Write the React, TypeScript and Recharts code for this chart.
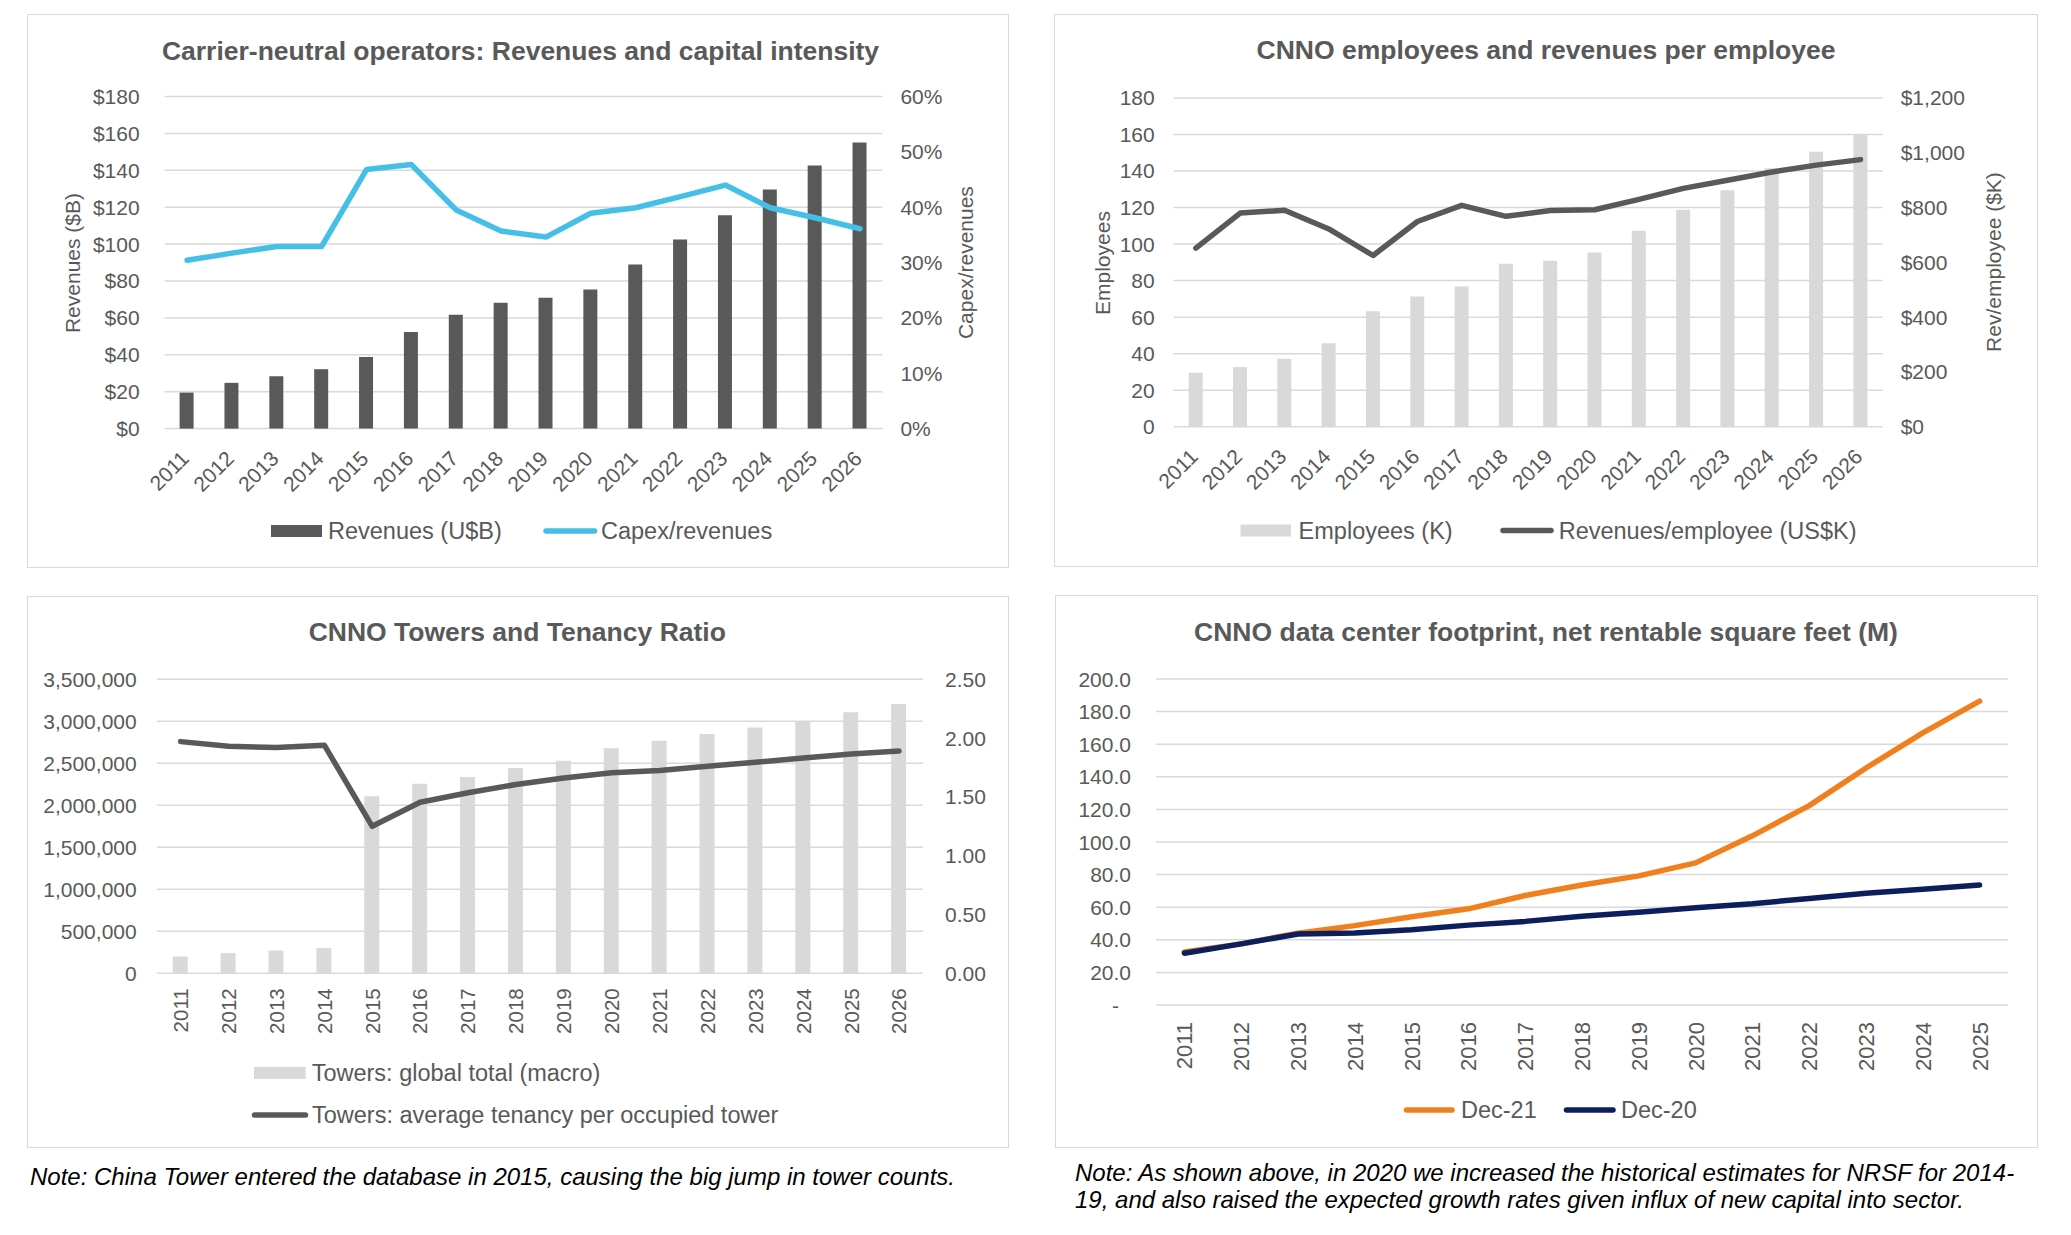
import React from 'react'
import { ComposedChart, Bar, Line, XAxis, YAxis, CartesianGrid } from 'recharts'

const years = ['2011', '2012', '2013', '2014', '2015', '2016', '2017', '2018', '2019', '2020', '2021', '2022', '2023', '2024', '2025', '2026']
const dcYears = ['2011', '2012', '2013', '2014', '2015', '2016', '2017', '2018', '2019', '2020', '2021', '2022', '2023', '2024', '2025']

// top left: revenues (U$B) and capex/revenues (%)
const revenuesB = [19.5, 24.8, 28.4, 32.2, 38.8, 52.4, 61.7, 68.2, 70.9, 75.4, 89.0, 102.5, 115.6, 129.6, 142.6, 155.1]
const capexPct = [30.4, 31.7, 32.9, 32.9, 46.8, 47.7, 39.5, 35.7, 34.6, 38.9, 39.9, 41.9, 44.0, 39.9, 38.1, 36.1]

// top right: employees (K) and revenues per employee (US$K)
const employeesK = [29.6, 32.6, 37.2, 45.7, 63.2, 71.3, 76.8, 89.3, 90.9, 95.4, 107.3, 118.8, 129.5, 141.5, 150.5, 160.0]
const revPerEmployeeK = [652, 780, 790, 722, 625, 749, 808, 768, 789, 792, 830, 870, 900, 930, 955, 975]

// bottom left: towers and tenancy
const towersTotal = [200000, 240000, 270000, 300000, 2107000, 2256000, 2336000, 2445000, 2530000, 2679000, 2768000, 2848000, 2925000, 3005000, 3108000, 3205000]
const tenancyRatio = [1.97, 1.93, 1.92, 1.94, 1.25, 1.455, 1.535, 1.605, 1.66, 1.705, 1.725, 1.76, 1.795, 1.83, 1.865, 1.89]

// bottom right: data center NRSF (M)
const nrsfDec21 = [32.6, 37.5, 44.1, 48.7, 54.1, 59.0, 67.2, 73.6, 79.2, 87.2, 103.8, 122.3, 145.4, 166.9, 186.4]
const nrsfDec20 = [31.8, 37.5, 43.6, 44.2, 46.2, 49.0, 51.3, 54.4, 56.9, 59.7, 62.1, 65.4, 68.5, 71.0, 73.6]

const revenueTicks = [0, 20, 40, 60, 80, 100, 120, 140, 160, 180]
const capexTicks = [0, 10, 20, 30, 40, 50, 60]
const employeeTicks = [0, 20, 40, 60, 80, 100, 120, 140, 160, 180]
const revPerEmpTicks = [0, 200, 400, 600, 800, 1000, 1200]
const towerTicks = [0, 500000, 1000000, 1500000, 2000000, 2500000, 3000000, 3500000]
const tenancyTicks = [0, 0.5, 1, 1.5, 2, 2.5]
const nrsfTicks = [0, 20, 40, 60, 80, 100, 120, 140, 160, 180, 200]

const revenueRows = years.map((year, i) => ({ year, revenue: revenuesB[i], capex: capexPct[i] }))
const employeeRows = years.map((year, i) => ({ year, employees: employeesK[i], revPerEmp: revPerEmployeeK[i] }))
const towerRows = years.map((year, i) => ({ year, towers: towersTotal[i], tenancy: tenancyRatio[i] }))
const nrsfRows = dcYears.map((year, i) => ({ year, dec21: nrsfDec21[i], dec20: nrsfDec20[i] }))

const FONT = '"Liberation Sans", Arial, sans-serif'
const INK = '#595959'
const GRID = '#D9D9D9'
const BLUE = '#45BFE6'
const ORANGE = '#F07F1E'
const NAVY = '#0C1F5C'

const LW = 100
const RW = 80
const XH = 100

type Box = { x: number; y: number; w: number; h: number }
type Plot = { l: number; t: number; r: number; b: number }

const P1: Box = { x: 27, y: 14, w: 982, h: 554 }
const P2: Box = { x: 1054, y: 14, w: 984, h: 553 }
const P3: Box = { x: 27, y: 596, w: 982, h: 552 }
const P4: Box = { x: 1055, y: 595, w: 983, h: 553 }

const A1: Plot = { l: 164.6, t: 96.5, r: 882.4, b: 428.6 }
const A2: Plot = { l: 1173.7, t: 98, r: 1882.7, b: 426.7 }
const A3: Plot = { l: 156.7, t: 679.3, r: 923, b: 973.3 }
const A4: Plot = { l: 1156, t: 679, r: 2008, b: 1005 }

function marginFor(box: Box, plot: Plot, right: number) {
  return {
    left: plot.l - box.x - LW,
    right: box.x + box.w - plot.r - right,
    top: plot.t - box.y,
    bottom: box.y + box.h - plot.b - XH,
  }
}

const tickStyle = { fill: INK, fontSize: 21, fontFamily: FONT }

function slantTick(props: any) {
  const { x, y, payload } = props
  const ax = x - 2
  const ay = y + 26
  return (
    <text x={ax} y={ay} dy="0.36em" textAnchor="end" fill={INK} fontSize={21} fontFamily={FONT}
      transform={`rotate(-45 ${ax} ${ay})`}>{payload.value}</text>
  )
}

function uprightTick(gap: number, size: number) {
  return (props: any) => {
    const { x, y, payload } = props
    const ay = y + gap
    return (
      <text x={x} y={ay} dy="0.36em" textAnchor="end" fill={INK} fontSize={size} fontFamily={FONT}
        transform={`rotate(-90 ${x} ${ay})`}>{payload.value}</text>
    )
  }
}

function nrsfTick(props: any) {
  const { x, y, payload } = props
  const v = payload.value
  return (
    <text x={v === 0 ? x - 12 : x} y={y} dy="0.36em" textAnchor="end" fill={INK} fontSize={21} fontFamily={FONT}>
      {v === 0 ? '-' : v.toFixed(1)}
    </text>
  )
}

function Frame({ box }: { box: Box }) {
  return (
    <div style={{
      position: 'absolute', left: box.x, top: box.y, width: box.w, height: box.h,
      border: `1.5px solid ${GRID}`, boxSizing: 'border-box',
    }} />
  )
}

function Place({ box, children }: { box: Box; children: React.ReactNode }) {
  return <div style={{ position: 'absolute', left: box.x, top: box.y }}>{children}</div>
}

export default function App() {
  return (
    <div style={{ position: 'absolute', left: 0, top: 0, width: 2071, height: 1235, background: '#fff', fontFamily: FONT }}>
      <Frame box={P1} />
      <Frame box={P2} />
      <Frame box={P3} />
      <Frame box={P4} />

      <Place box={P1}>
        <ComposedChart width={P1.w} height={P1.h} data={revenueRows} margin={marginFor(P1, A1, RW)}>
          <CartesianGrid yAxisId="left" vertical={false} stroke={GRID} strokeWidth={1.5} />
          <XAxis dataKey="year" axisLine={false} tickLine={false} tickSize={0} tickMargin={0} interval={0} height={XH} tick={slantTick} />
          <YAxis yAxisId="left" width={LW} domain={[0, 180]} ticks={revenueTicks} interval={0} axisLine={false} tickLine={false}
            tickSize={0} tickMargin={25} tick={tickStyle} tickFormatter={(v: number) => `$${v}`} />
          <YAxis yAxisId="right" orientation="right" width={RW} domain={[0, 60]} ticks={capexTicks} interval={0} axisLine={false}
            tickLine={false} tickSize={0} tickMargin={18} tick={tickStyle} tickFormatter={(v: number) => `${v}%`} />
          <Bar yAxisId="left" dataKey="revenue" fill={INK} barSize={14} isAnimationActive={false} />
          <Line yAxisId="right" dataKey="capex" type="linear" stroke={BLUE} strokeWidth={5.5} dot={false}
            strokeLinecap="round" strokeLinejoin="round" isAnimationActive={false} />
        </ComposedChart>
      </Place>

      <Place box={P2}>
        <ComposedChart width={P2.w} height={P2.h} data={employeeRows} margin={marginFor(P2, A2, RW)}>
          <CartesianGrid yAxisId="left" vertical={false} stroke={GRID} strokeWidth={1.5} />
          <XAxis dataKey="year" axisLine={false} tickLine={false} tickSize={0} tickMargin={0} interval={0} height={XH} tick={slantTick} />
          <YAxis yAxisId="left" width={LW} domain={[0, 180]} ticks={employeeTicks} interval={0} axisLine={false} tickLine={false}
            tickSize={0} tickMargin={19} tick={tickStyle} />
          <YAxis yAxisId="right" orientation="right" width={RW} domain={[0, 1200]} ticks={revPerEmpTicks} interval={0} axisLine={false}
            tickLine={false} tickSize={0} tickMargin={18} tick={tickStyle} tickFormatter={(v: number) => `$${v.toLocaleString('en-US')}`} />
          <Bar yAxisId="left" dataKey="employees" fill={GRID} barSize={14} isAnimationActive={false} />
          <Line yAxisId="right" dataKey="revPerEmp" type="linear" stroke={INK} strokeWidth={5.5} dot={false}
            strokeLinecap="round" strokeLinejoin="round" isAnimationActive={false} />
        </ComposedChart>
      </Place>

      <Place box={P3}>
        <ComposedChart width={P3.w} height={P3.h} data={towerRows} margin={marginFor(P3, A3, RW)}>
          <CartesianGrid yAxisId="left" vertical={false} stroke={GRID} strokeWidth={1.5} />
          <XAxis dataKey="year" axisLine={false} tickLine={false} tickSize={0} tickMargin={0} interval={0} height={XH}
            tick={uprightTick(15, 20.5)} />
          <YAxis yAxisId="left" width={LW} domain={[0, 3500000]} ticks={towerTicks} interval={0} axisLine={false} tickLine={false}
            tickSize={0} tickMargin={20} tick={tickStyle} tickFormatter={(v: number) => v.toLocaleString('en-US')} />
          <YAxis yAxisId="right" orientation="right" width={RW} domain={[0, 2.5]} ticks={tenancyTicks} interval={0} axisLine={false}
            tickLine={false} tickSize={0} tickMargin={22} tick={tickStyle} tickFormatter={(v: number) => v.toFixed(2)} />
          <Bar yAxisId="left" dataKey="towers" fill={GRID} barSize={15} isAnimationActive={false} />
          <Line yAxisId="right" dataKey="tenancy" type="linear" stroke={INK} strokeWidth={5.5} dot={false}
            strokeLinecap="round" strokeLinejoin="round" isAnimationActive={false} />
        </ComposedChart>
      </Place>

      <Place box={P4}>
        <ComposedChart width={P4.w} height={P4.h} data={nrsfRows} margin={marginFor(P4, A4, 0)}>
          <CartesianGrid vertical={false} stroke={GRID} strokeWidth={1.5} />
          <XAxis dataKey="year" axisLine={false} tickLine={false} tickSize={0} tickMargin={0} interval={0} height={XH}
            padding={{ left: 28.4, right: 28.4 }} tick={uprightTick(17, 22)} />
          <YAxis width={LW} domain={[0, 200]} ticks={nrsfTicks} interval={0} axisLine={false} tickLine={false}
            tickSize={0} tickMargin={25} tick={nrsfTick} />
          <Line dataKey="dec21" type="linear" stroke={ORANGE} strokeWidth={5.5} dot={false}
            strokeLinecap="round" strokeLinejoin="round" isAnimationActive={false} />
          <Line dataKey="dec20" type="linear" stroke={NAVY} strokeWidth={5.5} dot={false}
            strokeLinecap="round" strokeLinejoin="round" isAnimationActive={false} />
        </ComposedChart>
      </Place>

      <svg width={2071} height={1235} style={{ position: 'absolute', left: 0, top: 0, pointerEvents: 'none' }}
        fontFamily={FONT} fill={INK}>
        <g fontSize={26.5} fontWeight="bold" textAnchor="middle">
          <text x={520.5} y={60}>Carrier-neutral operators: Revenues and capital intensity</text>
          <text x={1546} y={59}>CNNO employees and revenues per employee</text>
          <text x={517.3} y={640.7}>CNNO Towers and Tenancy Ratio</text>
          <text x={1546} y={641}>CNNO data center footprint, net rentable square feet (M)</text>
        </g>

        <g fontSize={21} textAnchor="middle">
          <text x={72.7} y={263} dy="0.36em" transform="rotate(-90 72.7 263)">Revenues ($B)</text>
          <text x={965} y={262.6} dy="0.36em" transform="rotate(-90 965 262.6)">Capex/revenues</text>
          <text x={1102} y={263} dy="0.36em" transform="rotate(-90 1102 263)">Employees</text>
          <text x={1993.7} y={262} dy="0.36em" transform="rotate(-90 1993.7 262)">Rev/employee ($K)</text>
        </g>

        <g fontSize={23.5}>
          <rect x={271} y={525} width={51} height={12} fill={INK} />
          <text x={328} y={531} dy="0.36em">Revenues (U$B)</text>
          <line x1={546} x2={594.6} y1={531} y2={531} stroke={BLUE} strokeWidth={5.5} strokeLinecap="round" />
          <text x={601} y={531} dy="0.36em">Capex/revenues</text>

          <rect x={1240.5} y={524.5} width={50.5} height={12} fill={GRID} />
          <text x={1298.6} y={530.5} dy="0.36em">Employees (K)</text>
          <line x1={1503} x2={1551} y1={530.5} y2={530.5} stroke={INK} strokeWidth={5.5} strokeLinecap="round" />
          <text x={1558.7} y={530.5} dy="0.36em">Revenues/employee (US$K)</text>

          <rect x={254} y={1067} width={51.7} height={12} fill={GRID} />
          <text x={311.7} y={1073} dy="0.36em">Towers: global total (macro)</text>
          <line x1={254.5} x2={305.5} y1={1115} y2={1115} stroke={INK} strokeWidth={5.5} strokeLinecap="round" />
          <text x={312} y={1115} dy="0.36em">Towers: average tenancy per occupied tower</text>

          <line x1={1406.5} x2={1452} y1={1110} y2={1110} stroke={ORANGE} strokeWidth={5.5} strokeLinecap="round" />
          <text x={1461} y={1110} dy="0.36em">Dec-21</text>
          <line x1={1566.5} x2={1613} y1={1110} y2={1110} stroke={NAVY} strokeWidth={5.5} strokeLinecap="round" />
          <text x={1621} y={1110} dy="0.36em">Dec-20</text>
        </g>

        <g fontSize={24} fontStyle="italic" fill="#000">
          <text x={30} y={1184.5}>Note: China Tower entered the database in 2015, causing the big jump in tower counts.</text>
          <text x={1075} y={1181}>Note: As shown above, in 2020 we increased the historical estimates for NRSF for 2014-</text>
          <text x={1075} y={1208}>19, and also raised the expected growth rates given influx of new capital into sector.</text>
        </g>
      </svg>
    </div>
  )
}
